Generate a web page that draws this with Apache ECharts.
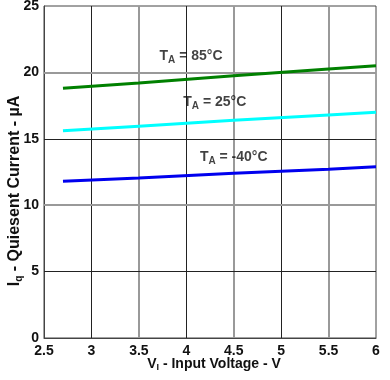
<!DOCTYPE html>
<html><head><meta charset="utf-8">
<script src="https://cdn.jsdelivr.net/npm/echarts@6/dist/echarts.min.js"></script>
<style>html,body{margin:0;padding:0;background:#fff}#c{width:390px;height:380px}</style>
</head><body><div id="c"></div>
<script>
const xVals = [2.7, 3.5, 4.5, 5.5, 6];
const t85 = [18.8, 19.2, 19.75, 20.25, 20.5];
const t25 = [15.6, 15.95, 16.4, 16.8, 17.0];
const tm40 = [11.8, 12.05, 12.4, 12.7, 12.9];
const labelPos = [[4.05, 21.2, '85°C'], [4.30, 17.75, '25°C'], [4.50, 13.6, '-40°C']];
const xTicks = [2.5, 3, 3.5, 4, 4.5, 5, 5.5, 6];

const font = 'Liberation Sans, Arial, sans-serif';
const chart = echarts.init(document.getElementById('c'));
function ser(data, color) {
  return { type: 'line', data: xVals.map((x, i) => [x, data[i]]), showSymbol: false, symbol: 'none',
    lineStyle: { color: color, width: 3 }, z: 5, animation: false };
}
const gridLinesX = xTicks.slice(1, -1);
const markX = gridLinesX.map((v, i) => ({ xAxis: v, lineStyle: { color: i % 2 === 0 ? '#222' : '#999', width: i % 2 === 0 ? 1 : 2, type: 'solid' } }));
const markY = [5, 10, 15, 20].map((v, i) => ({ yAxis: v, lineStyle: { color: i % 2 === 0 ? '#222' : '#999', width: i % 2 === 0 ? 1 : 2, type: 'solid' } }));
chart.setOption({
  animation: false,
  grid: { left: 44, right: 14, top: 6, bottom: 42, show: true, borderColor: '#444', borderWidth: 1, containLabel: false, outerBoundsMode: 'none' },
  xAxis: { type: 'value', min: 2.5, max: 6, interval: 0.5,
    axisLine: { show: true, onZero: false, lineStyle: { color: '#444' } }, axisTick: { show: false }, splitLine: { show: false },
    axisLabel: { color: '#111', fontFamily: font, fontWeight: 'bold', fontSize: 14, margin: 6, showMinLabel: true, showMaxLabel: true },
    name: '{a|V}{s|I}{a| - Input Voltage - V}', nameLocation: 'middle', nameGap: 19, nameMoveOverlap: false,
    nameTextStyle: { padding: [0, 0, 0, 8], rich: { a: { fontFamily: font, fontWeight: 'bold', fontSize: 14, color: '#111' }, s: { fontFamily: font, fontWeight: 'bold', fontSize: 9, color: '#111', padding: [0,0,-8,0] } } } },
  yAxis: { type: 'value', min: 0, max: 25, interval: 5,
    axisLine: { show: true, lineStyle: { color: '#444' } }, axisTick: { show: false }, splitLine: { show: false },
    axisLabel: { color: '#111', fontFamily: font, fontWeight: 'bold', fontSize: 14, margin: 5 },
    name: '{a|I}{s|q}{a| - Quiesent Current - µA}', nameLocation: 'middle', nameGap: 21, nameRotate: 90, nameMoveOverlap: false,
    nameTextStyle: { padding: [0, 38, 0, 0], rich: { a: { fontFamily: font, fontWeight: 'bold', fontSize: 16, color: '#111' }, s: { fontFamily: font, fontWeight: 'bold', fontSize: 10, color: '#111', padding: [0,0,-9,0] } } } },
  series: [
    { type: 'line', data: [], markLine: { silent: true, symbol: 'none', label: { show: false }, data: markX.concat(markY), animation: false }, z: 1 },
    ser(t85, '#008000'), ser(t25, '#00ffff'), ser(tm40, '#0000ee'),
    { type: 'scatter', symbolSize: 0, z: 6, data: labelPos.map(p => ({ value: [p[0], p[1]], name: p[2] })),
      label: { show: true, position: 'inside', formatter: p => '{a|T}{s|A}{a| = ' + p.name + '}',
        rich: { a: { fontFamily: font, fontWeight: 'bold', fontSize: 14, color: '#111' }, s: { fontFamily: font, fontWeight: 'bold', fontSize: 10, color: '#111', padding: [0,0,-8,0] } } } }
  ]
});
</script></body></html>
